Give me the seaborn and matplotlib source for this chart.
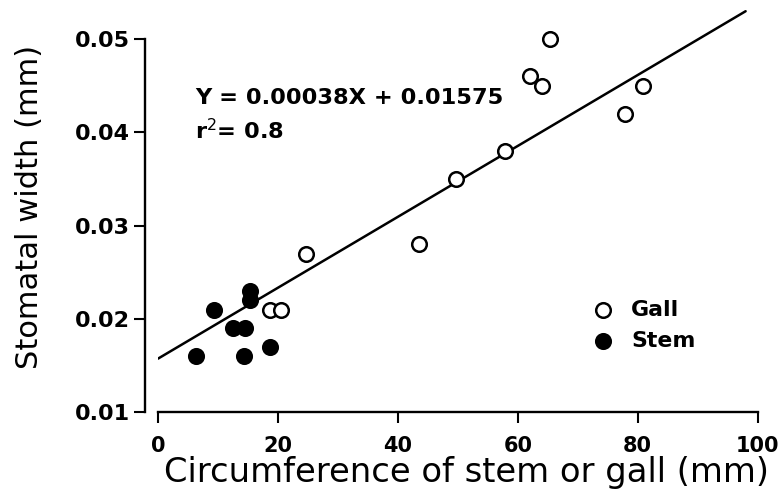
import numpy as np
import pandas as pd
import matplotlib
matplotlib.use("Agg")
import matplotlib.pyplot as plt
import seaborn as sns

sns.set_style("ticks")
sns.set_style(rc={
    'axes.edgecolor': 'black',
    'axes.labelcolor': 'black',
    'xtick.color': 'black',
    'ytick.color': 'black',
    'text.color': 'black',
    })
plt.rcParams['font.family'] = ['DejaVu Sans']

# data
gall_circ = [18.6, 20.5, 24.7, 43.5, 49.7, 57.8, 62.1, 64.1, 65.3, 77.8, 80.9]
gall_width = [0.021, 0.021, 0.027, 0.028, 0.035, 0.038, 0.046, 0.045, 0.050, 0.042, 0.045]
stem_circ = [6.3, 9.35, 12.5, 14.5, 14.4, 15.4, 15.4, 18.7]
stem_width = [0.016, 0.021, 0.019, 0.019, 0.016, 0.022, 0.023, 0.017]

# regression printed on the figure
slope = 0.00038
intercept = 0.01575
fit_x = [0, 98]

x_ticks = [0, 20, 40, 60, 80, 100]
y_ticks = [0.01, 0.02, 0.03, 0.04, 0.05]

df_gall = pd.DataFrame({'circ': gall_circ, 'width': gall_width})
df_stem = pd.DataFrame({'circ': stem_circ, 'width': stem_width})
df_fit = pd.DataFrame({'circ': fit_x})
df_fit['width'] = slope * df_fit['circ'] + intercept

fig = plt.figure(figsize=(7.78, 4.98), dpi=100)
ax = fig.add_axes([0.2031, 0.1721, 0.7707, 0.8243])

sns.lineplot(data=df_fit, x='circ', y='width', color='black', linewidth=1.8, ax=ax)
sns.scatterplot(data=df_gall, x='circ', y='width', color='white', edgecolor='black',
                linewidth=1.8, s=110, label='Gall', ax=ax, zorder=3, clip_on=False)
sns.scatterplot(data=df_stem, x='circ', y='width', color='black', edgecolor='black',
                linewidth=1.8, s=110, label='Stem', ax=ax, zorder=3, clip_on=False)

ax.set_xlim(0, 100)
ax.set_ylim(0.01, 0.054)
ax.set_xticks(x_ticks)
ax.set_yticks(y_ticks)
ax.set_yticklabels([f'{v:.2f}' for v in y_ticks])

sns.despine(ax=ax)
ax.spines['left'].set_position(('outward', 9.4))
ax.spines['left'].set_bounds(0.01, 0.05)
ax.spines['bottom'].set_bounds(0, 100)
for s in ['left', 'bottom']:
    ax.spines[s].set_linewidth(1.7)
ax.tick_params(axis='both', length=8, width=1.5)
ax.tick_params(axis='x', pad=9, labelsize=15)
ax.tick_params(axis='y', pad=3, labelsize=16)
for lab in ax.get_xticklabels() + ax.get_yticklabels():
    lab.set_fontweight('bold')

ax.set_xlabel('Circumference of stem or gall (mm)', fontsize=24.3, labelpad=0)
ax.xaxis.label.set_x(0.515)
ax.set_ylabel('Stomatal width (mm)', fontsize=22, labelpad=22)

ax.text(6.2, 0.0437, 'Y = 0.00038X + 0.01575', fontsize=16.2, fontweight='bold',
        va='center', ha='left')
ax.text(6.2, 0.0402, 'r$^2$= 0.8', fontsize=16.2, fontweight='bold',
        va='center', ha='left')

ax.legend(loc='upper left', bbox_to_anchor=(0.705, 0.30), frameon=False,
          prop={'size': 15.8, 'weight': 'bold'},
          handlelength=1, handletextpad=0.8, borderpad=0, labelspacing=0.5)

fig.savefig('out.png', dpi=100)
